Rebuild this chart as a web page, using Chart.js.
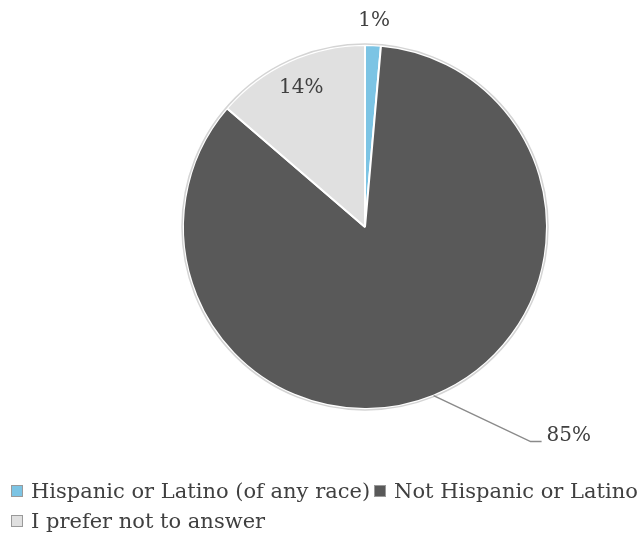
<!DOCTYPE html>
<html>
<head>
<meta charset="utf-8">
<script src="https://cdn.jsdelivr.net/npm/chart.js@4/dist/chart.umd.min.js"></script>
<style>
  body { margin: 0; background: #fff; overflow: hidden; }
  #wrap { position: relative; width: 637px; height: 543px; overflow: hidden; }
  #legend { position: absolute; left: 11px; top: 476px; width: 660px;
            font-family: "DejaVu Serif", serif; font-size: 21px; color: #404040; }
  .item { display: inline-block; white-space: nowrap; margin-right: 4px; height: 30px; line-height: 30px; }
  .box { display: inline-block; width: 10px; height: 10px; border: 1px solid #9a9a9a;
         margin-right: 8px; vertical-align: 1px; }
</style>
</head>
<body>
<div id="wrap">
  <canvas id="pie" width="637" height="543"></canvas>
  <div id="legend"></div>
</div>
<script>
const categories = ['Hispanic or Latino (of any race)', 'Not Hispanic or Latino', 'I prefer not to answer'];
const values = [1.4, 84.9, 13.7];
const valueLabels = ['1%', '85%', '14%'];
const colors = ['#7cc4e4', '#595959', '#e0e0e0'];

// etiquetas das fatias
const labelPlugin = {
    id: 'sliceLabels',
    afterDatasetsDraw(chart) {
        const ctx = chart.ctx;
        const arcs = chart.getDatasetMeta(0).data;
        ctx.save();
        // contorno cinza
        const a0 = arcs[0];
        ctx.beginPath();
        ctx.arc(a0.x, a0.y, a0.outerRadius + 1, 0, Math.PI * 2);
        ctx.strokeStyle = '#d4d4d4';
        ctx.lineWidth = 1.5;
        ctx.stroke();

        ctx.font = '20px "DejaVu Serif", serif';
        ctx.fillStyle = '#404040';
        ctx.textBaseline = 'middle';
        arcs.forEach((arc, i) => {
            const mid = (arc.startAngle + arc.endAngle) / 2;
            const r = arc.outerRadius;
            const cx = Math.cos(mid), cy = Math.sin(mid);
            if (i === 0) {
                ctx.textAlign = 'center';
                ctx.fillText(valueLabels[i], arc.x + cx * (r + 24), arc.y + cy * (r + 24));
            } else if (i === 2) {
                ctx.textAlign = 'center';
                ctx.fillText(valueLabels[i], arc.x + cx * r * 0.84, arc.y + cy * r * 0.84);
            } else {
                const sx = arc.x + cx * r, sy = arc.y + cy * r;
                const ex = sx + 97, ey = sy + 46;
                ctx.beginPath();
                ctx.moveTo(sx, sy);
                ctx.lineTo(ex, ey);
                ctx.lineTo(ex + 11, ey);
                ctx.strokeStyle = '#8a8a8a';
                ctx.lineWidth = 1.5;
                ctx.stroke();
                ctx.textAlign = 'left';
                ctx.fillText(valueLabels[i], ex + 16, ey - 6);
            }
        });
        ctx.restore();
    }
};

new Chart(document.getElementById('pie'), {
    type: 'pie',
    data: {
        labels: categories,
        datasets: [{
            data: values,
            backgroundColor: colors,
            borderColor: '#ffffff',
            borderWidth: 2
        }]
    },
    options: {
        responsive: false,
        animation: false,
        layout: { padding: { left: 182, right: 89, top: 44, bottom: 133 } },
        plugins: { legend: { display: false }, tooltip: { enabled: false } }
    },
    plugins: [labelPlugin]
});

// legenda
const legend = document.getElementById('legend');
categories.forEach((c, i) => {
    const item = document.createElement('span');
    item.className = 'item';
    const box = document.createElement('span');
    box.className = 'box';
    box.style.background = colors[i];
    item.appendChild(box);
    item.appendChild(document.createTextNode(c));
    legend.appendChild(item);
});
</script>
</body>
</html>
